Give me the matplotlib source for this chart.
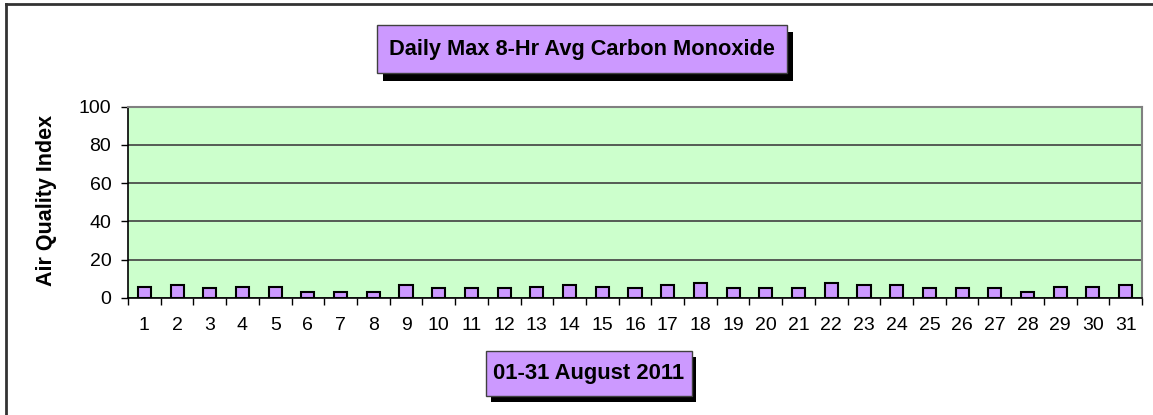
import matplotlib
matplotlib.use("Agg")
import matplotlib.pyplot as plt
from matplotlib.patches import Rectangle
from matplotlib.lines import Line2D

# ── Data ──────────────────────────────────────────────────────────────────────
days = list(range(1, 32))
aqi = [6, 7, 5, 6, 6, 3, 3, 3, 7, 5, 5, 5, 6, 7, 6, 5, 7, 8, 5, 5,
       5, 8, 7, 7, 5, 5, 5, 3, 6, 6, 7]
y_ticks = [0, 20, 40, 60, 80, 100]
title = "Daily Max 8-Hr Avg Carbon Monoxide"
xlabel = "01-31 August 2011"
ylabel = "Air Quality Index"

W, H = 1153, 415
plt.rcParams["font.family"] = ["Liberation Sans", "DejaVu Sans"]

fig = plt.figure(figsize=(W / 100, H / 100), dpi=100)


def px_rect(x0, y0, x1, y1, **kw):
    """Rectangle in figure pixel coords (y from top)."""
    return Rectangle((x0 / W, 1 - y1 / H), (x1 - x0) / W, (y1 - y0) / H,
                     transform=fig.transFigure, figure=fig, **kw)


# ── Axes ──────────────────────────────────────────────────────────────────────
left, right, top, bottom = 128, 1142, 106.5, 298
ax = fig.add_axes([left / W, 1 - bottom / H, (right - left) / W, (bottom - top) / H])
ax.set_facecolor("#CCFFCC")

ax.bar(days, aqi, width=0.4, color="#CC99FF", edgecolor="black", linewidth=1.5, zorder=3)

ax.set_xlim(0.5, 31.5)
ax.set_ylim(0, 100)
ax.set_yticks(y_ticks)
ax.set_xticks(days)
ax.set_xticklabels([str(d) for d in days], fontsize=14)
ax.set_xticks([d + 0.5 for d in range(0, 32)], minor=True)
ax.tick_params(axis="x", which="major", length=0, pad=14)
ax.tick_params(axis="x", which="minor", length=5, width=1, direction="out")
ax.tick_params(axis="y", length=5, width=1, direction="out", labelsize=14, pad=7)

ax.grid(axis="y", color="#404040", linewidth=1.2, zorder=1)
ax.set_axisbelow(True)

for side in ("top", "right"):
    ax.spines[side].set_color("#808080")
    ax.spines[side].set_linewidth(1.5)
for side in ("left", "bottom"):
    ax.spines[side].set_color("black")
    ax.spines[side].set_linewidth(1.2)

fig.text(47 / W, 1 - 200 / H, ylabel, rotation=90, ha="center", va="center",
         fontsize=15.5, fontweight="bold")

# ── Title box with shadow ─────────────────────────────────────────────────────
fig.patches.append(px_rect(383, 32, 793, 81, facecolor="black", edgecolor="none"))
fig.patches.append(px_rect(377, 25, 787, 73, facecolor="#CC99FF", edgecolor="#404040", linewidth=1))
fig.text(582 / W, 1 - 49 / H, title, ha="center", va="center", fontsize=15.7, fontweight="bold")

# ── X label box with shadow ───────────────────────────────────────────────────
fig.patches.append(px_rect(491, 357, 696, 402, facecolor="black", edgecolor="none"))
fig.patches.append(px_rect(486, 351, 692, 396, facecolor="#CC99FF", edgecolor="#404040", linewidth=1))
fig.text(589 / W, 1 - 373.5 / H, xlabel, ha="center", va="center", fontsize=15.8, fontweight="bold")

# ── Outer border (left and top only visible) ─────────────────────────────────
fig.add_artist(Line2D([5.5 / W, 5.5 / W], [0, 1 - 4.5 / H], color="#333333", linewidth=2,
                      transform=fig.transFigure))
fig.add_artist(Line2D([5.5 / W, 1], [1 - 4.5 / H, 1 - 4.5 / H], color="#333333", linewidth=2,
                      transform=fig.transFigure))

fig.savefig("out.png", dpi=100)
